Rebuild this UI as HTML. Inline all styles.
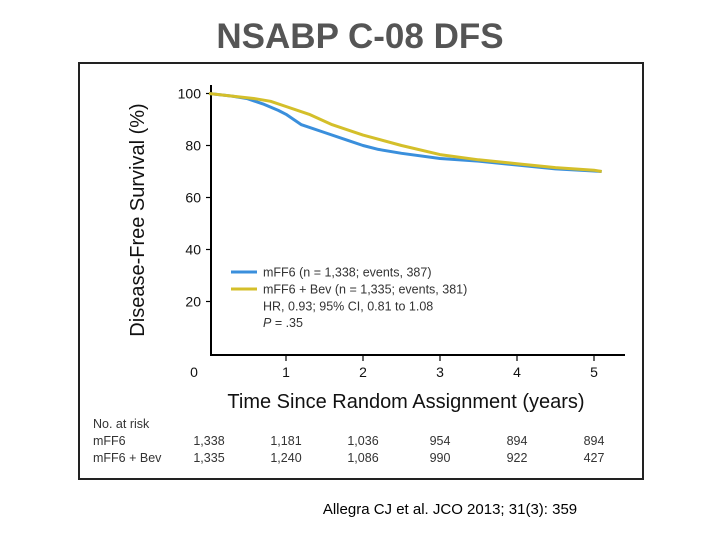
<!DOCTYPE html>
<html><head><meta charset="utf-8"><style>
body{margin:0;background:#fff;width:720px;height:540px;overflow:hidden;font-family:"Liberation Sans",sans-serif}
</style></head><body>
<svg width="720" height="540" xmlns="http://www.w3.org/2000/svg">
<text x="360" y="48" text-anchor="middle" font-size="35" font-weight="bold" fill="#555">NSABP C-08 DFS</text>
<rect x="79" y="63" width="564" height="416" fill="#fff" stroke="#222" stroke-width="2"/>
<g id="plot"></g>
<text x="450" y="514" text-anchor="middle" font-size="15" fill="#000">Allegra CJ et al. JCO 2013; 31(3): 359</text>
</svg>
<script>
const xTicks=[0,1,2,3,4,5];
const yTicks=[20,40,60,80,100];
const blueT=[0,0.3,0.5,0.7,0.9,1.0,1.2,1.5,1.8,2.0,2.2,2.5,3.0,3.5,4.0,4.5,5.0,5.1];
const blueS=[100,99,98,96,93.5,92,88,85,82,80,78.5,77,75,74,72.5,71,70.2,70];
const yellowT=[0,0.3,0.6,0.8,1.0,1.3,1.6,2.0,2.5,3.0,3.5,4.0,4.5,5.0,5.1];
const yellowS=[100,99,98,97,95,92,88,84,80,76.5,74.5,73,71.5,70.5,70];
const riskLabels=["mFF6","mFF6 + Bev"];
const riskBlue=["1,338","1,181","1,036","954","894","894"];
const riskYellow=["1,335","1,240","1,086","990","922","427"];
const NS="http://www.w3.org/2000/svg";
const g=document.getElementById('plot');
const X=t=>209+77*t, Y=v=>353.5-2.6*v;
function mk(tag,a,txt){const e=document.createElementNS(NS,tag);for(const k in a)e.setAttribute(k,a[k]);if(txt!=null)e.textContent=txt;g.appendChild(e);return e;}
let e;
e=mk('line',{x1:211,y1:85,x2:211,y2:356,stroke:'#000','stroke-width':2});


e=mk('line',{x1:210,y1:355,x2:625,y2:355,stroke:'#000','stroke-width':2});


yTicks.forEach(v=>{
 e=mk('line',{x1:206,y1:Y(v),x2:211,y2:Y(v),stroke:'#000','stroke-width':1.2});
 
 
 e=mk('text',{x:201,y:Y(v)+5,'text-anchor':'end','font-size':14,fill:'#111'},v);
 
 
});
xTicks.forEach(t=>{
 if(t>0){e=mk('line',{x1:X(t),y1:355,x2:X(t),y2:361,stroke:'#000','stroke-width':1.2});
 
 }
 e=mk('text',{x:t===0?194:X(t),y:377,'text-anchor':'middle','font-size':14,fill:'#111'},t);
 
 
});
e=mk('text',{transform:'translate(144,220) rotate(-90)','text-anchor':'middle','font-size':20,fill:'#111'},'Disease-Free Survival (%)');


e=mk('text',{x:406,y:408,'text-anchor':'middle','font-size':20,fill:'#111'},'Time Since Random Assignment (years)');


function path(T,S){let d='';T.forEach((t,i)=>{d+=(i?'L':'M')+X(t).toFixed(1)+','+Y(S[i]).toFixed(1);});return d;}
e=mk('path',{d:path(blueT,blueS),fill:'none',stroke:'#3a8fdc','stroke-width':3,'stroke-linejoin':'round'});


e=mk('path',{d:path(yellowT,yellowS),fill:'none',stroke:'#d4bf2a','stroke-width':3,'stroke-linejoin':'round'});


e=mk('line',{x1:231,y1:272,x2:257,y2:272,stroke:'#3a8fdc','stroke-width':3});


e=mk('line',{x1:231,y1:289,x2:257,y2:289,stroke:'#d4bf2a','stroke-width':3});


const leg=[['mFF6 (n = 1,338; events, 387)',276.5],['mFF6 + Bev (n = 1,335; events, 381)',293.5],['HR, 0.93; 95% CI, 0.81 to 1.08',310.5]];
leg.forEach(l=>{e=mk('text',{x:263,y:l[1],'font-size':12.5,fill:'#333'},l[0]);
 
 });
e=mk('text',{x:263,y:327,'font-size':12.5,fill:'#333'});
e.innerHTML='<tspan font-style="italic">P</tspan> = .35';


e=mk('text',{x:93,y:428,'font-size':12.5,fill:'#333'},'No. at risk');


[[riskBlue,445],[riskYellow,462]].forEach((r,i)=>{
 e=mk('text',{x:93,y:r[1],'font-size':12.5,fill:'#333'},riskLabels[i]);
 
 
 r[0].forEach((v,j)=>{
  e=mk('text',{x:X(xTicks[j]),y:r[1],'text-anchor':'middle','font-size':12.5,fill:'#333'},v);
  
  
 });
});
</script>
</body></html>
